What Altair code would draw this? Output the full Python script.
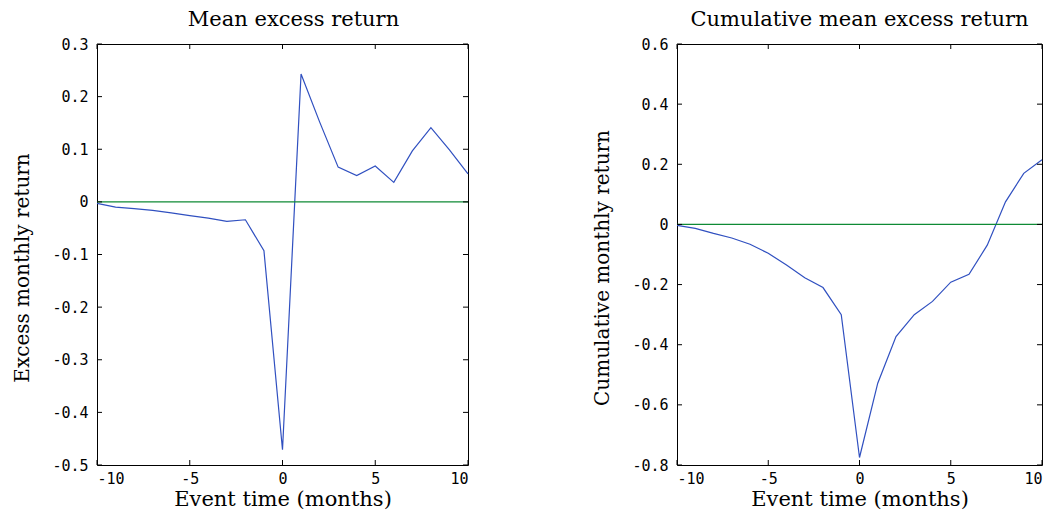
import altair as alt
import pandas as pd

# ---- data ----
months = list(range(-10, 11))
mean_excess = [-0.003, -0.010, -0.013, -0.016, -0.021, -0.026, -0.031, -0.037, -0.034, -0.093,
               -0.471, 0.243, 0.152, 0.066, 0.050, 0.068, 0.037, 0.097, 0.141, 0.099, 0.053]
cum_excess = [-0.003, -0.013, -0.030, -0.045, -0.066, -0.096, -0.135, -0.177, -0.210, -0.300,
              -0.775, -0.528, -0.373, -0.300, -0.256, -0.192, -0.166, -0.069, 0.075, 0.170, 0.215]

x_ticks = [-10, -5, 0, 5, 10]
left_y_ticks = [-0.5, -0.4, -0.3, -0.2, -0.1, 0.0, 0.1, 0.2, 0.3]
right_y_ticks = [-0.8, -0.6, -0.4, -0.2, 0.0, 0.2, 0.4, 0.6]
zero_level = [0.0]

left_title = "Mean excess return"
right_title = "Cumulative mean excess return"
left_ytitle = "Excess monthly return"
right_ytitle = "Cumulative monthly return"
x_title = "Event time (months)"

BLUE = "#3050c0"
GREEN = "#0f8a35"
H = 421
TICK = 5

y_label_expr = "datum.value == 0 ? '0' : replace(format(datum.value, '.1f'), '\u2212', '-')"
x_label_expr = "replace(format(datum.value, 'd'), '\u2212', '-')"


def panel(values, ydomain, yticks, ytitle, title, w, title_dx):
    df = pd.DataFrame({"t": months, "v": values})
    xt = pd.DataFrame({"t": x_ticks})
    yt = pd.DataFrame({"v": yticks})
    zd = pd.DataFrame({"v": zero_level})

    xscale = alt.Scale(domain=[-10, 10], nice=False, zero=False)
    yscale = alt.Scale(domain=ydomain, nice=False, zero=False)
    xaxis = alt.Axis(values=x_ticks, title=x_title, labelExpr=x_label_expr)
    yaxis = alt.Axis(values=yticks, title=ytitle, labelExpr=y_label_expr, titleY=H / 2 + 13)
    X = alt.X("t:Q", scale=xscale, axis=xaxis)
    Y = alt.Y("v:Q", scale=yscale, axis=yaxis)

    line = alt.Chart(df).mark_line(color=BLUE, strokeWidth=1.2).encode(x=X, y=Y)
    zero = alt.Chart(zd).mark_rule(color=GREEN, strokeWidth=1.3).encode(
        y=Y, x=alt.value(0), x2=alt.value(w))
    bt = alt.Chart(xt).mark_rule(color="black").encode(
        x=X, y=alt.value(H), y2=alt.value(H - TICK))
    tt = alt.Chart(xt).mark_rule(color="black").encode(
        x=X, y=alt.value(0), y2=alt.value(TICK))
    lt = alt.Chart(yt).mark_rule(color="black").encode(
        y=Y, x=alt.value(0), x2=alt.value(TICK))
    rt = alt.Chart(yt).mark_rule(color="black").encode(
        y=Y, x=alt.value(w - TICK), x2=alt.value(w))

    return alt.layer(line, zero, bt, tt, lt, rt).properties(
        width=w, height=H,
        title=alt.TitleParams(title, font="DejaVu Serif", fontSize=21, fontWeight="normal",
                              color="black", offset=7, dx=title_dx),
    )


left = panel(mean_excess, [-0.5, 0.3], left_y_ticks, left_ytitle, left_title, 371, 11)
right = panel(cum_excess, [-0.8, 0.6], right_y_ticks, right_ytitle, right_title, 365, 0)

chart = alt.hconcat(left, right, spacing=209, bounds="flush").properties(
    padding={"left": 4, "top": 0, "right": 0, "bottom": 0}
).configure(
    background="white"
).configure_view(
    stroke="black", strokeWidth=1
).configure_axis(
    labelFont="DejaVu Sans Mono", labelFontSize=15, labelColor="black",
    titleFont="DejaVu Serif", titleFontSize=21, titleFontWeight="normal", titleColor="black",
    ticks=False, tickSize=0, domain=False, grid=False,
).configure_axisX(
    labelPadding=6, titlePadding=2,
).configure_axisY(
    labelPadding=9, titlePadding=19, titleFontSize=20,
)

chart.save("out.html", embed_options={"renderer": "svg", "actions": False})
